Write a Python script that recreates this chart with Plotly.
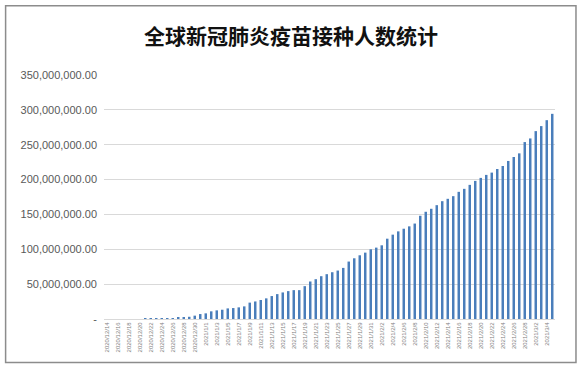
import plotly.graph_objects as go
import pandas as pd

title_text = "全球新冠肺炎疫苗接种人数统计"

dates = [f"{d.year}/{d.month}/{d.day}" for d in pd.date_range("2020-12-14", "2021-03-05", freq="D")]

vaccinated_millions = [
    0, 0, 0, 0, 0, 0, 0, 0.3, 0.5, 0.7,
    0.9, 1.1, 1.4, 1.8, 2.4, 3.2, 4.8, 7.1, 8.1, 11.0,
    12.4, 13.3, 15.2, 15.7, 16.7, 18.1, 23.5, 25.2, 27.3, 29.6,
    32.9, 35.7, 38.1, 40.0, 41.4, 41.4, 47.1, 53.8, 57.1, 61.4,
    64.3, 67.1, 69.5, 73.3, 82.4, 87.1, 91.4, 95.2, 100.0, 102.4,
    105.7, 115.2, 121.0, 125.7, 129.5, 132.9, 136.9, 148.1, 153.8, 158.1,
    163.3, 169.0, 172.4, 176.2, 182.4, 186.7, 192.4, 198.1, 202.4, 206.7,
    210.0, 215.2, 219.5, 226.7, 232.4, 237.6, 253.8, 259.0, 269.5, 276.7,
    285.2, 294.3,
]
vaccinated = [v * 1e6 for v in vaccinated_millions]

y_tickvals = [0, 50e6, 100e6, 150e6, 200e6, 250e6, 300e6, 350e6]
y_ticktext = ["-", "50,000,000.00", "100,000,000.00", "150,000,000.00",
              "200,000,000.00", "250,000,000.00", "300,000,000.00", "350,000,000.00"]
x_tickvals = dates[::2]

W, H = 582, 369
L, R, T, B = 104, 26.5, 75, 49.5
pw, ph = W - L - R, H - T - B

fig = go.Figure()
fig.add_trace(go.Bar(
    x=dates, y=vaccinated,
    marker=dict(color="#4A7EBB", line=dict(width=0)),
))

def px_x(x):
    return (x - L) / pw

def px_y(y):
    return (H - B - y) / ph

fig.add_shape(type="rect", xref="paper", yref="paper",
              x0=px_x(5.5), x1=px_x(576.5), y0=px_y(363), y1=px_y(5.5),
              line=dict(color="#8c8c8c", width=1.5), layer="below")

fig.update_layout(
    width=W, height=H,
    margin=dict(l=L, r=R, t=T, b=B, pad=0, autoexpand=False),
    paper_bgcolor="white", plot_bgcolor="white",
    bargap=0.55,
    showlegend=False,
    title=dict(text=title_text, x=0.5, xref="container", y=1 - 37 / H, yref="container",
               yanchor="middle", xanchor="center", automargin=False,
               font=dict(family="Noto Sans CJK SC", size=21, color="#111111", weight="bold")),
    xaxis=dict(
        type="category", automargin=False,
        tickmode="array", tickvals=x_tickvals, ticktext=x_tickvals,
        tickangle=-90,
        tickfont=dict(family="Liberation Sans", size=6, color="#7f7f7f"),
        showgrid=False, showline=True, linecolor="#d9d9d9", linewidth=1,
        ticks="", range=[-0.5, len(dates) - 0.5],
    ),
    yaxis=dict(
        range=[0, 350e6], automargin=False,
        tickmode="array", tickvals=y_tickvals, ticktext=y_ticktext,
        tickfont=dict(family="Liberation Sans", size=11, color="#595959"),
        showgrid=True, gridcolor="#d9d9d9", gridwidth=1.2,
        zeroline=False, showline=False, ticks="", ticklabelstandoff=6,
    ),
)

fig.write_html(
    "out.html",
    config={"displayModeBar": False},
    post_script="document.body.style.margin='0';document.body.style.overflow='hidden';",
)
